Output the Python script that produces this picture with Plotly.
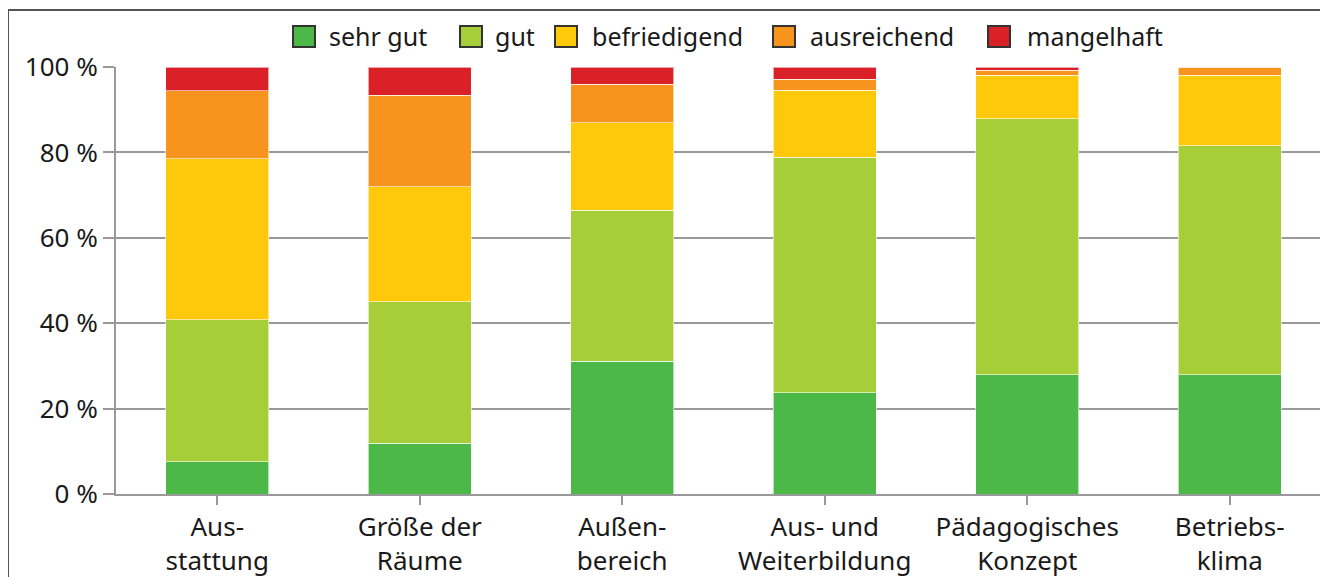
import plotly.graph_objects as go

categories = ["Aus-<br>stattung", "Größe der<br>Räume", "Außen-<br>bereich",
              "Aus- und<br>Weiterbildung", "Pädagogisches<br>Konzept", "Betriebs-<br>klima"]
series_names = ["sehr gut", "gut", "befriedigend", "ausreichend", "mangelhaft"]
sehr_gut = [7.5, 11.9, 31.1, 23.7, 27.9, 27.9]
gut = [33.3, 33.1, 35.4, 55.2, 60.0, 53.7]
befriedigend = [37.7, 26.9, 20.5, 15.6, 10.2, 16.5]
ausreichend = [15.9, 21.5, 9.0, 2.6, 1.1, 1.9]
mangelhaft = [5.6, 6.6, 4.0, 2.9, 0.8, 0.0]
y_ticks = [0, 20, 40, 60, 80, 100]
y_tick_labels = ["0 %", "20 %", "40 %", "60 %", "80 %", "100 %"]

colors = ["#4cb848", "#a6ce39", "#ffc90b", "#f7941d", "#da2128"]
values = [sehr_gut, gut, befriedigend, ausreichend, mangelhaft]

FONT = "Noto Sans"
W, H = 1328, 577
ML, MR, MT, MB = 108, 5, 59, 91
PW = W - ML - MR
PH = H - MT - MB


def px(x):
    return (x - ML) / PW


def py(y):
    return (H - MB - y) / PH


fig = go.Figure()
for name, vals, col in zip(series_names, values, colors):
    fig.add_trace(go.Bar(
        x=categories, y=vals, name=name, showlegend=False,
        marker=dict(color=col, line=dict(color="rgba(255,255,255,0.6)", width=1)),
        width=0.51,
    ))

# manual legend (boxes + text)
legend_box_x = [285, 452, 547, 765, 980]
legend_text_x = [319, 485, 582, 800, 1017]
for name, col, bx, tx in zip(series_names, colors, legend_box_x, legend_text_x):
    fig.add_shape(type="rect", xref="paper", yref="paper",
                  x0=px(bx), x1=px(bx + 22), y0=py(39), y1=py(18),
                  fillcolor=col, line=dict(color="#333333", width=2))
    fig.add_annotation(xref="paper", yref="paper", x=px(tx), y=py(28),
                       xanchor="left", yanchor="middle", text=name, showarrow=False,
                       font=dict(family=FONT, size=25, color="#1a1a1a"))

fig.update_layout(
    width=W, height=H,
    barmode="stack",
    showlegend=False,
    paper_bgcolor="white", plot_bgcolor="white",
    margin=dict(l=ML, r=MR, t=MT, b=MB),
    font=dict(family=FONT, size=26, color="#1a1a1a"),
    bargap=0.49,
)
fig.update_xaxes(
    type="category", range=[-0.5, 5.5],
    showline=True, linecolor="#999999", linewidth=2,
    ticks="outside", ticklen=9, tickwidth=2, tickcolor="#999999",
    showgrid=False, tickfont=dict(family=FONT, size=26, color="#1a1a1a"),
)
fig.update_yaxes(
    range=[0, 100], tickvals=y_ticks, ticktext=y_tick_labels,
    showline=True, linecolor="#999999", linewidth=2,
    ticks="outside", ticklen=11, tickwidth=2, tickcolor="#999999",
    showgrid=True, gridcolor="#999999", gridwidth=2,
    zeroline=False, tickfont=dict(family=FONT, size=26, color="#1a1a1a"),
)
fig.add_shape(type="rect", xref="paper", yref="paper",
              x0=px(0), x1=1.2, y0=-0.4, y1=py(2),
              line=dict(color="#555555", width=2), fillcolor="rgba(0,0,0,0)", layer="below")

fig.write_html("out.html")
